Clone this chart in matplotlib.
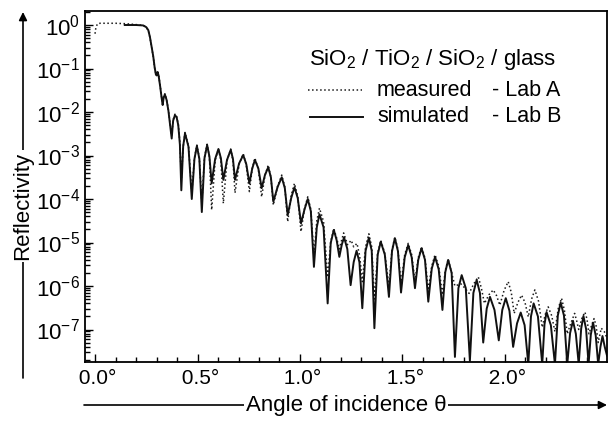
import numpy as np
import matplotlib
matplotlib.use("Agg")
import matplotlib.pyplot as plt
from matplotlib.lines import Line2D
from matplotlib.ticker import FixedLocator, LogLocator, NullFormatter

plt.rcParams['font.family'] = ['Liberation Sans', 'DejaVu Sans']
plt.rcParams['mathtext.fontset'] = 'custom'
plt.rcParams['mathtext.rm'] = 'Liberation Sans'

# (angle in degrees, log10 reflectivity)
simulated = [
    (0.145, 0.00), (0.200, 0.00), (0.235, -0.01), (0.250, -0.05), (0.260, -0.12),
    (0.268, -0.28), (0.276, -0.50), (0.284, -0.72), (0.291, -0.98), (0.297, -1.14),
    (0.301, -1.16), (0.305, -1.08), (0.310, -1.16), (0.318, -1.42), (0.325, -1.68),
    (0.330, -1.84), (0.335, -1.66), (0.341, -1.60), (0.349, -1.72), (0.358, -1.97),
    (0.366, -2.28), (0.374, -2.61), (0.381, -2.20), (0.390, -2.07), (0.398, -2.12),
    (0.406, -2.30), (0.414, -2.75), (0.421, -3.80),
    (0.430, -2.79), (0.439, -2.49), (0.456, -2.80), (0.472, -4.00),
    (0.485, -3.08), (0.497, -2.78), (0.509, -3.08), (0.521, -4.30),
    (0.534, -3.06), (0.547, -2.76), (0.558, -3.02), (0.569, -3.64),
    (0.586, -3.08), (0.602, -2.85), (0.614, -3.06), (0.626, -3.56),
    (0.644, -3.10), (0.662, -2.87), (0.673, -3.08), (0.683, -3.56),
    (0.703, -3.18), (0.723, -2.99), (0.738, -3.20), (0.753, -3.64),
    (0.767, -3.30), (0.780, -3.10), (0.797, -3.30), (0.813, -3.75),
    (0.829, -3.45), (0.845, -3.27), (0.858, -3.50), (0.870, -4.06),
    (0.891, -3.72), (0.911, -3.50), (0.926, -3.75), (0.940, -4.37),
    (0.957, -3.98), (0.973, -3.73), (0.989, -3.98), (1.005, -4.56),
    (1.022, -4.24), (1.038, -4.00), (1.053, -4.28), (1.068, -5.56),
    (1.082, -4.65), (1.095, -4.35), (1.115, -4.65), (1.135, -6.40),
    (1.150, -5.01), (1.165, -4.71), (1.179, -4.95), (1.192, -5.33),
    (1.204, -5.05), (1.215, -4.88), (1.231, -5.15), (1.247, -5.98),
    (1.262, -5.45), (1.276, -5.19), (1.290, -5.45), (1.304, -6.51),
    (1.320, -5.19), (1.336, -4.89), (1.350, -5.19), (1.363, -6.97),
    (1.379, -5.28), (1.394, -4.98), (1.414, -5.28), (1.434, -6.25),
    (1.449, -5.20), (1.463, -4.90), (1.478, -5.20), (1.493, -6.15),
    (1.511, -5.34), (1.528, -5.06), (1.545, -5.34), (1.561, -6.05),
    (1.577, -5.40), (1.593, -5.13), (1.610, -5.40), (1.626, -6.36),
    (1.643, -5.60), (1.659, -5.33), (1.677, -5.62), (1.695, -6.55),
    (1.709, -5.68), (1.723, -5.40), (1.740, -5.70), (1.756, -7.63),
    (1.773, -6.05), (1.789, -5.75), (1.809, -6.05), (1.829, -7.72),
    (1.846, -6.16), (1.862, -5.86), (1.878, -6.16), (1.894, -7.30),
    (1.911, -6.52), (1.927, -6.25), (1.949, -6.55), (1.970, -7.25),
    (1.987, -6.55), (2.004, -6.28), (2.022, -6.57), (2.040, -7.40),
    (2.059, -6.86), (2.077, -6.61), (2.096, -6.90), (2.114, -7.80),
    (2.127, -6.70), (2.140, -6.40), (2.161, -6.70), (2.182, -7.80),
    (2.193, -6.88), (2.203, -6.60), (2.224, -6.90), (2.244, -7.80),
    (2.258, -6.68), (2.272, -6.38), (2.288, -6.68), (2.304, -7.80),
    (2.318, -7.08), (2.332, -6.80), (2.346, -7.10), (2.360, -7.80),
    (2.372, -6.98), (2.383, -6.69), (2.396, -6.99), (2.408, -7.80),
    (2.419, -7.12), (2.430, -6.84), (2.443, -7.14), (2.455, -7.80),
    (2.466, -7.40), (2.476, -7.15), (2.487, -7.40), (2.498, -7.60),
]

measured = [
    (0.000, -0.20), (0.004, -0.06), (0.012, 0.03), (0.025, 0.04), (0.100, 0.04),
    (0.150, 0.03), (0.200, 0.01), (0.235, -0.01), (0.250, -0.05), (0.260, -0.13),
    (0.268, -0.29), (0.276, -0.51), (0.284, -0.73), (0.291, -0.99), (0.297, -1.13),
    (0.301, -1.14), (0.305, -1.06), (0.310, -1.13), (0.318, -1.40), (0.325, -1.66),
    (0.330, -1.80), (0.335, -1.63), (0.341, -1.58), (0.349, -1.70), (0.358, -1.96),
    (0.366, -2.26), (0.374, -2.55), (0.381, -2.18), (0.390, -2.05), (0.398, -2.10),
    (0.406, -2.28), (0.414, -2.70), (0.421, -3.55),
    (0.430, -2.80), (0.439, -2.47), (0.456, -2.78), (0.472, -3.85),
    (0.485, -3.06), (0.497, -2.76), (0.509, -3.06), (0.521, -4.10),
    (0.534, -3.04), (0.547, -2.74), (0.558, -3.04), (0.569, -4.25),
    (0.586, -3.12), (0.602, -2.84), (0.614, -3.12), (0.626, -4.10),
    (0.644, -3.12), (0.662, -2.85), (0.673, -3.12), (0.683, -3.86),
    (0.703, -3.20), (0.723, -2.96), (0.738, -3.22), (0.753, -3.83),
    (0.767, -3.30), (0.780, -3.06), (0.797, -3.32), (0.813, -3.95),
    (0.829, -3.46), (0.845, -3.22), (0.858, -3.50), (0.870, -4.14),
    (0.891, -3.70), (0.911, -3.45), (0.926, -3.72), (0.940, -4.52),
    (0.957, -3.92), (0.973, -3.64), (0.989, -3.94), (1.005, -4.75),
    (1.022, -4.22), (1.038, -3.95), (1.053, -4.24), (1.068, -5.33),
    (1.082, -4.50), (1.095, -4.21), (1.115, -4.52), (1.135, -5.80),
    (1.150, -4.98), (1.165, -4.68), (1.179, -4.90), (1.192, -5.15),
    (1.203, -4.95), (1.213, -4.78), (1.232, -5.05), (1.250, -4.95),
    (1.262, -5.10), (1.278, -5.02), (1.291, -5.30), (1.304, -5.90),
    (1.320, -5.10), (1.336, -4.80), (1.350, -5.10), (1.363, -6.30),
    (1.379, -5.25), (1.394, -4.95), (1.414, -5.25), (1.434, -6.00),
    (1.449, -5.16), (1.463, -4.88), (1.478, -5.16), (1.493, -5.95),
    (1.511, -5.28), (1.528, -5.02), (1.545, -5.28), (1.561, -5.90),
    (1.577, -5.35), (1.593, -5.10), (1.610, -5.36), (1.626, -6.10),
    (1.643, -5.54), (1.659, -5.28), (1.677, -5.55), (1.695, -6.20),
    (1.709, -5.64), (1.723, -5.38), (1.740, -5.70), (1.756, -6.00),
    (1.785, -5.95), (1.805, -6.05), (1.825, -6.17),
    (1.848, -5.95), (1.870, -5.79), (1.885, -6.05), (1.900, -6.40),
    (1.922, -6.20), (1.943, -6.09), (1.959, -6.22), (1.975, -6.44),
    (1.996, -6.10), (2.016, -5.90), (2.031, -6.15), (2.045, -6.63),
    (2.063, -6.38), (2.081, -6.21), (2.098, -6.38), (2.114, -6.71),
    (2.130, -6.30), (2.146, -6.09), (2.164, -6.35), (2.182, -6.95),
    (2.197, -6.65), (2.211, -6.48), (2.228, -6.68), (2.244, -7.05),
    (2.260, -6.52), (2.276, -6.28), (2.290, -6.55), (2.304, -7.10),
    (2.322, -6.85), (2.340, -6.63), (2.350, -6.80), (2.360, -7.00),
    (2.375, -6.75), (2.390, -6.60), (2.400, -6.75), (2.410, -7.10),
    (2.423, -6.90), (2.435, -6.75), (2.445, -6.92), (2.455, -7.30),
    (2.470, -6.97), (2.485, -7.05), (2.498, -7.20),
]

x_ticks = [0.0, 0.5, 1.0, 1.5, 2.0]
# leading space balances the degree sign so the number sits on the tick
x_tick_labels = [' 0.0°', ' 0.5°', ' 1.0°', ' 1.5°', ' 2.0°']
y_exponents = [0, -1, -2, -3, -4, -5, -6, -7]

W, H = 614, 421


def fx(px):
    return px / W


def fy(py):
    return 1 - py / H


sim = np.array(simulated)
meas = np.array(measured)

fig = plt.figure(figsize=(W / 100, H / 100), dpi=100)
ax = fig.add_axes([fx(85), fy(362), fx(607) - fx(85), fy(11) - fy(362)])

ax.plot(meas[:, 0], 10 ** meas[:, 1], ls=':', lw=1.1, color='#1a1a1a')
ax.plot(sim[:, 0], 10 ** sim[:, 1], ls='-', lw=1.4, color='#111111')

ax.set_yscale('log')
ax.set_xlim(-0.049, 2.498)
ax.set_ylim(10 ** -7.747, 10 ** 0.322)

ax.set_xticks(x_ticks)
ax.set_xticklabels(x_tick_labels)
ax.xaxis.set_minor_locator(FixedLocator(np.arange(0.1, 2.5, 0.1)))

ax.set_yticks([10.0 ** e for e in y_exponents])
ax.set_yticklabels([r'$\mathregular{10^{%d}}$' % e for e in y_exponents])
ax.yaxis.set_minor_locator(LogLocator(base=10, subs=np.arange(2, 10), numticks=20))
ax.yaxis.set_minor_formatter(NullFormatter())

ax.tick_params(which='both', direction='in', top=False, right=False, width=1.0)
ax.tick_params(which='major', length=6)
ax.tick_params(which='minor', length=3.5)
ax.tick_params(axis='x', labelsize=15, pad=5)
ax.tick_params(axis='y', labelsize=16, pad=3.5)
for sp in ax.spines.values():
    sp.set_linewidth(1.3)

# legend drawn by hand
fs = 15.5
fig.text(fx(309), fy(59), r'SiO$_\mathregular{2}$ / TiO$_\mathregular{2}$ / SiO$_\mathregular{2}$ / glass',
         fontsize=16, va='center', ha='left')
fig.add_artist(Line2D([fx(308), fx(362)], [fy(90), fy(90)], ls=':', lw=1.1, color='#1a1a1a'))
fig.add_artist(Line2D([fx(310), fx(363)], [fy(117), fy(117)], ls='-', lw=1.4, color='#111111'))
fig.text(fx(377), fy(90), 'measured', fontsize=fs, va='center', ha='left')
fig.text(fx(377), fy(117), 'simulated', fontsize=fs, va='center', ha='left')
fig.text(fx(492), fy(90), '- Lab A', fontsize=fs, va='center', ha='left')
fig.text(fx(492), fy(117), '- Lab B', fontsize=fs, va='center', ha='left')

# axis labels with arrows
arrow = dict(arrowstyle='-|>', lw=1.2, color='black', mutation_scale=12, shrinkA=0, shrinkB=0)
ax.annotate('', xy=(fx(23), fy(12)), xytext=(fx(23), fy(378)),
            xycoords='figure fraction', textcoords='figure fraction',
            arrowprops=arrow, annotation_clip=False)
ax.annotate('', xy=(fx(607), fy(405)), xytext=(fx(84), fy(405)),
            xycoords='figure fraction', textcoords='figure fraction',
            arrowprops=arrow, annotation_clip=False)
fig.text(fx(23), fy(206), 'Reflectivity', rotation=90, fontsize=16, ha='center', va='center',
         bbox=dict(facecolor='white', edgecolor='none', pad=1.5))
fig.text(fx(346), fy(405), 'Angle of incidence θ', fontsize=16, ha='center', va='center',
         bbox=dict(facecolor='white', edgecolor='none', pad=1.5))

fig.savefig('out.png', dpi=100)
